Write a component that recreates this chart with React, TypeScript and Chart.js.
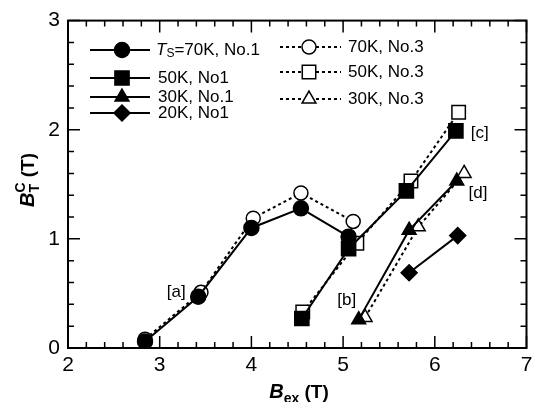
import { useEffect, useRef } from "react";
import { Chart, registerables } from "chart.js";
Chart.register(...registerables);

const FONT = "'Liberation Sans', Arial, sans-serif";

// 70K, No.1 (filled circles)
const x70_1 = [2.84, 3.42, 4.0, 4.54, 5.06];
const y70_1 = [0.06, 0.47, 1.1, 1.28, 1.02];
// 70K, No.3 (open circles)
const x70_3 = [2.84, 3.45, 4.02, 4.54, 5.11];
const y70_3 = [0.08, 0.51, 1.19, 1.42, 1.16];
// 50K, No1 (filled squares)
const x50_1 = [4.55, 5.06, 5.69, 6.23];
const y50_1 = [0.27, 0.91, 1.44, 1.99];
// 50K, No.3 (open squares)
const x50_3 = [4.56, 5.15, 5.74, 6.26];
const y50_3 = [0.33, 0.96, 1.53, 2.16];
// 30K, No.1 (filled triangles)
const x30_1 = [5.17, 5.72, 6.24];
const y30_1 = [0.26, 1.08, 1.53];
// 30K, No.3 (open triangles)
const x30_3 = [5.24, 5.82, 6.32];
const y30_3 = [0.28, 1.11, 1.6];
// 20K, No1 (filled diamonds)
const x20_1 = [5.72, 6.25];
const y20_1 = [0.69, 1.03];

const annLabels = ["[a]", "[b]", "[c]", "[d]"];
const annX = [3.18, 5.04, 6.49, 6.47];
const annY = [0.51, 0.44, 1.97, 1.42];

const xTicks = [2, 3, 4, 5, 6, 7];
const yTicks = [0, 1, 2, 3];

const pts = (xs: number[], ys: number[]) => xs.map((x, i) => ({ x, y: ys[i] }));

function drawMarker(ctx: CanvasRenderingContext2D, style: string, x: number, y: number, r: number, filled: boolean) {
  ctx.beginPath();
  if (style === "circle") {
    ctx.arc(x, y, r, 0, Math.PI * 2);
  } else if (style === "rect") {
    const s = Math.SQRT1_2 * r;
    ctx.rect(x - s, y - s, 2 * s, 2 * s);
  } else if (style === "triangle") {
    for (let k = 0; k < 3; k++) {
      const a = (k * 2 * Math.PI) / 3;
      const px = x + Math.sin(a) * r;
      const py = y - Math.cos(a) * r;
      if (k === 0) ctx.moveTo(px, py);
      else ctx.lineTo(px, py);
    }
    ctx.closePath();
  } else if (style === "rectRot") {
    ctx.moveTo(x, y - r);
    ctx.lineTo(x + r, y);
    ctx.lineTo(x, y + r);
    ctx.lineTo(x - r, y);
    ctx.closePath();
  }
  ctx.fillStyle = filled ? "#000" : "#fff";
  ctx.fill();
  ctx.lineWidth = 1.5;
  ctx.strokeStyle = "#000";
  ctx.stroke();
}

type Seg = { t: string; font: string; dy: number; stackWith?: boolean };

function richWidth(ctx: CanvasRenderingContext2D, segs: Seg[]) {
  let w = 0;
  let last = 0;
  for (const s of segs) {
    ctx.font = s.font;
    const sw = ctx.measureText(s.t).width;
    if (s.stackWith) {
      w += Math.max(0, sw - last);
      last = Math.max(sw, last);
    } else {
      w += sw;
      last = sw;
    }
  }
  return w;
}

function drawRich(ctx: CanvasRenderingContext2D, segs: Seg[], x: number, y: number) {
  let cx = x;
  let prevStart = x;
  let prevW = 0;
  for (const s of segs) {
    ctx.font = s.font;
    const sw = ctx.measureText(s.t).width;
    if (s.stackWith) {
      ctx.fillText(s.t, prevStart, y + s.dy);
      if (sw > prevW) cx = prevStart + sw;
    } else {
      ctx.fillText(s.t, cx, y + s.dy);
      prevStart = cx;
      prevW = sw;
      cx += sw;
    }
  }
}

const decorPlugin = {
  id: "decor",
  afterDraw(chart: any) {
    const { ctx, chartArea: a, scales } = chart;
    const xs = scales.x;
    const ys = scales.y;
    ctx.save();
    ctx.strokeStyle = "#000";
    ctx.fillStyle = "#000";
    ctx.setLineDash([]);
    // ticks
    ctx.lineWidth = 1.5;
    for (let i = 0; i <= 25; i++) {
      const v = 2 + i * 0.2;
      const major = i % 5 === 0;
      const L = major ? 12 : 6;
      const px = xs.getPixelForValue(v);
      ctx.beginPath();
      ctx.moveTo(px, a.bottom);
      ctx.lineTo(px, a.bottom - L);
      ctx.moveTo(px, a.top);
      ctx.lineTo(px, a.top + L);
      ctx.stroke();
    }
    for (let i = 0; i <= 15; i++) {
      const v = i * 0.2;
      const major = i % 5 === 0;
      const L = major ? 12 : 6;
      const py = ys.getPixelForValue(v);
      ctx.beginPath();
      ctx.moveTo(a.left, py);
      ctx.lineTo(a.left + L, py);
      ctx.moveTo(a.right, py);
      ctx.lineTo(a.right - L, py);
      ctx.stroke();
    }
    // frame
    ctx.lineWidth = 2;
    ctx.strokeRect(a.left, a.top, a.right - a.left, a.bottom - a.top);

    // annotations
    ctx.font = `17px ${FONT}`;
    ctx.textAlign = "center";
    ctx.textBaseline = "middle";
    annLabels.forEach((t, i) => {
      ctx.fillText(t, xs.getPixelForValue(annX[i]), ys.getPixelForValue(annY[i]));
    });

    // legend
    ctx.textAlign = "left";
    ctx.textBaseline = "middle";
    const leftRows = [
      { y: 50, style: "circle", r: 7.5 },
      { y: 78, style: "rect", r: 10 },
      { y: 97, style: "triangle", r: 8 },
      { y: 113, style: "rectRot", r: 8 },
    ];
    const leftTexts = ["", "50K, No1", "30K, No.1", "20K, No1"];
    leftRows.forEach((row, i) => {
      ctx.setLineDash([]);
      ctx.lineWidth = 2;
      ctx.beginPath();
      ctx.moveTo(90, row.y);
      ctx.lineTo(150, row.y);
      ctx.stroke();
      drawMarker(ctx, row.style, 122, row.y, row.r, true);
      ctx.fillStyle = "#000";
      if (i === 0) {
        drawRich(
          ctx,
          [
            { t: "T", font: `italic 17px ${FONT}`, dy: 0 },
            { t: "S", font: `12px ${FONT}`, dy: 4 },
            { t: "=70K, No.1", font: `17px ${FONT}`, dy: 0 },
          ],
          156,
          row.y
        );
      } else {
        ctx.font = `17px ${FONT}`;
        ctx.fillText(leftTexts[i], 158, row.y);
      }
    });
    const rightRows = [
      { y: 47, style: "circle", r: 7, t: "70K, No.3" },
      { y: 72, style: "rect", r: 9.5, t: "50K, No.3" },
      { y: 99, style: "triangle", r: 8, t: "30K, No.3" },
    ];
    rightRows.forEach((row) => {
      ctx.setLineDash([3, 3]);
      ctx.lineWidth = 2;
      ctx.beginPath();
      ctx.moveTo(280, row.y);
      ctx.lineTo(341, row.y);
      ctx.stroke();
      ctx.setLineDash([]);
      drawMarker(ctx, row.style, 309, row.y, row.r, false);
      ctx.fillStyle = "#000";
      ctx.font = `17px ${FONT}`;
      ctx.fillText(row.t, 348, row.y);
    });

    // x title
    ctx.fillStyle = "#000";
    ctx.textBaseline = "alphabetic";
    ctx.textAlign = "left";
    const xSegs: Seg[] = [
      { t: "B", font: `italic bold 20px ${FONT}`, dy: 0 },
      { t: "ex", font: `bold 14px ${FONT}`, dy: 5 },
      { t: " (T)", font: `bold 19px ${FONT}`, dy: 0 },
    ];
    const xw = richWidth(ctx, xSegs);
    drawRich(ctx, xSegs, 299 - xw / 2, 398);

    // y title
    ctx.save();
    ctx.translate(34, 180);
    ctx.rotate(-Math.PI / 2);
    const ySegs: Seg[] = [
      { t: "B", font: `italic bold 20px ${FONT}`, dy: 0 },
      { t: "T", font: `bold 14px ${FONT}`, dy: 5 },
      { t: "C", font: `bold 14px ${FONT}`, dy: -9, stackWith: true },
      { t: " (T)", font: `bold 19px ${FONT}`, dy: 0 },
    ];
    const yw = richWidth(ctx, ySegs);
    drawRich(ctx, ySegs, -yw / 2, 0);
    ctx.restore();

    ctx.restore();
  },
};

export default function App() {
  const ref = useRef<HTMLCanvasElement>(null);
  useEffect(() => {
    document.body.style.margin = "0";
    const solid = (data: any, style: string, r: number) => ({
      data,
      showLine: true,
      borderColor: "#000",
      borderWidth: 2,
      pointStyle: style,
      pointRadius: r,
      pointBackgroundColor: "#000",
      pointBorderColor: "#000",
      pointBorderWidth: 1.5,
    });
    const dashed = (data: any, style: string, r: number) => ({
      data,
      showLine: true,
      borderColor: "#000",
      borderWidth: 2,
      borderDash: [3, 3],
      pointStyle: style,
      pointRadius: r,
      pointBackgroundColor: "#fff",
      pointBorderColor: "#000",
      pointBorderWidth: 1.5,
    });
    const chart = new Chart(ref.current!, {
      type: "scatter",
      data: {
        datasets: [
          solid(pts(x70_1, y70_1), "circle", 7.5),
          solid(pts(x50_1, y50_1), "rect", 10),
          solid(pts(x30_1, y30_1), "triangle", 8),
          solid(pts(x20_1, y20_1), "rectRot", 8),
          dashed(pts(x70_3, y70_3), "circle", 7),
          dashed(pts(x50_3, y50_3), "rect", 9.5),
          dashed(pts(x30_3, y30_3), "triangle", 8),
        ] as any,
      },
      options: {
        responsive: false,
        animation: false,
        layout: { padding: { top: 18, right: 6, left: 0, bottom: 0 } },
        plugins: { legend: { display: false }, tooltip: { enabled: false } },
        scales: {
          x: {
            type: "linear",
            min: 2,
            max: 7,
            afterBuildTicks: (s: any) => {
              s.ticks = xTicks.map((v) => ({ value: v }));
            },
            ticks: { color: "#000", font: { family: FONT, size: 21 }, padding: 5, maxRotation: 0 },
            grid: { display: false, drawTicks: false },
            border: { display: false },
            afterFit: (s: any) => {
              s.height = 54;
            },
          },
          y: {
            type: "linear",
            min: 0,
            max: 3,
            afterBuildTicks: (s: any) => {
              s.ticks = yTicks.map((v) => ({ value: v }));
            },
            ticks: { color: "#000", font: { family: FONT, size: 21 }, padding: 8 },
            grid: { display: false, drawTicks: false },
            border: { display: false },
            afterFit: (s: any) => {
              s.width = 68;
            },
          },
        },
      } as any,
      plugins: [decorPlugin],
    });
    return () => chart.destroy();
  }, []);
  return <canvas ref={ref} width={538} height={402} style={{ display: "block" }} />;
}
